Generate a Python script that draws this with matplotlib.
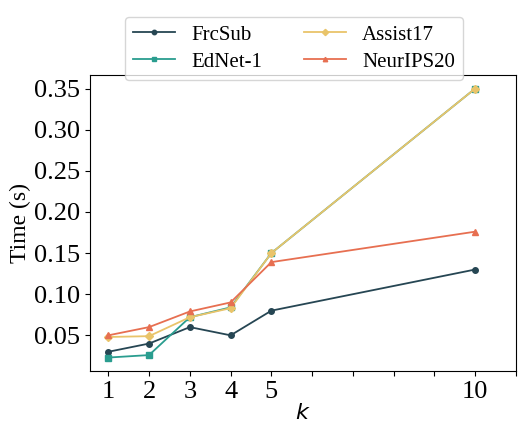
"""Inference time vs k for four datasets."""
import numpy as np
import matplotlib.pyplot as plt

# -------------------------------------------------------
# Data.
# -------------------------------------------------------
k_values = [1, 2, 3, 4, 5, 10]
frcsub = [0.030, 0.040, 0.060, 0.050, 0.080, 0.130]
ednet = [0.023, 0.026, 0.072, 0.084, 0.150, 0.350]
assist17 = [0.048, 0.049, 0.072, 0.083, 0.150, 0.350]
neurips20 = [0.050, 0.060, 0.079, 0.090, 0.139, 0.176]
tick_labels = ["1", "2", "3", "4", "5", "", "", "", "", "10", ""]

# -------------------------------------------------------
# Plot setup.
# -------------------------------------------------------
plt.rcParams["font.family"] = ["Liberation Serif", "DejaVu Serif"]
plt.rcParams["mathtext.fontset"] = "dejavusans"

fig = plt.figure(figsize=(5.26, 4.24), dpi=100)
ax = fig.add_axes([0.171, 0.125, 0.810, 0.698])

series = [
    ("FrcSub", frcsub, "#264653", "o"),
    ("EdNet-1", ednet, "#2a9d8f", "s"),
    ("Assist17", assist17, "#e9c46a", "D"),
    ("NeurIPS20", neurips20, "#e76f51", "^"),
]
for name, vals, color, marker in series:
    ax.plot(k_values, vals, color=color, marker=marker,
            markersize=4, linewidth=1.3, label=name)

ax.set_xticks(np.arange(1, 12))
ax.set_xticklabels(tick_labels)
ax.set_xlim(0.55, 11)
ax.set_yticks([0.05, 0.10, 0.15, 0.20, 0.25, 0.30, 0.35])
ax.set_yticklabels(["%.2f" % v for v in ax.get_yticks()])
ax.tick_params(labelsize=19)
ax.set_xlabel("$k$", fontsize=16, labelpad=1)
ax.set_ylabel("Time (s)", fontsize=17, labelpad=2)

fig.legend(loc="upper center", bbox_to_anchor=(0.559, 0.985), ncol=2,
           fontsize=15, handlelength=2.0, columnspacing=2.0,
           handletextpad=0.8, labelspacing=0.35, markerscale=0.8)

fig.savefig("out.png", dpi=100)
